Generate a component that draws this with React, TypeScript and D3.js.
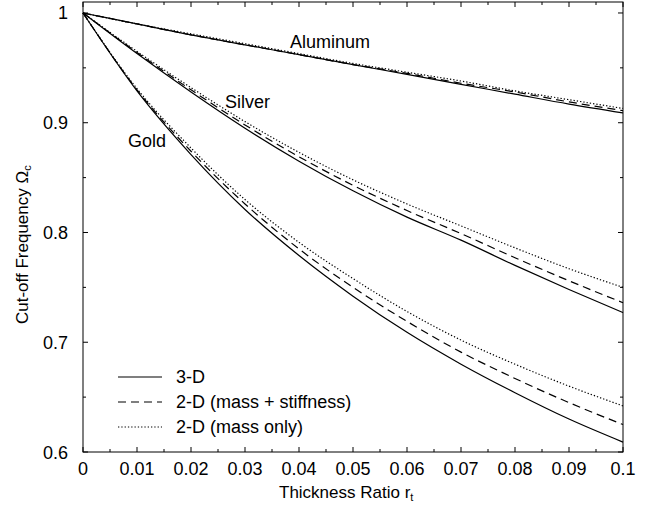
import React, { useRef, useEffect } from "react";
import * as d3 from "d3";

// thickness ratio r_t
const thickness = [0, 0.01, 0.02, 0.03, 0.04, 0.05, 0.06, 0.07, 0.08, 0.09, 0.1];

// cut-off frequency, one array per material and model
const aluminum_3d = [1, 0.990, 0.980, 0.971, 0.962, 0.953, 0.944, 0.935, 0.926, 0.917, 0.909];
const aluminum_2d_ms = [1, 0.990, 0.980, 0.971, 0.962, 0.953, 0.945, 0.936, 0.928, 0.919, 0.911];
const aluminum_2d_m = [1, 0.990, 0.981, 0.972, 0.963, 0.954, 0.946, 0.938, 0.929, 0.921, 0.913];

const silver_3d = [1, 0.963, 0.928, 0.895, 0.865, 0.838, 0.814, 0.793, 0.770, 0.748, 0.727];
const silver_2d_ms = [1, 0.964, 0.930, 0.898, 0.869, 0.843, 0.820, 0.799, 0.777, 0.756, 0.736];
const silver_2d_m = [1, 0.965, 0.932, 0.901, 0.873, 0.848, 0.826, 0.806, 0.786, 0.767, 0.750];

const gold_3d = [1, 0.929, 0.871, 0.821, 0.779, 0.742, 0.709, 0.680, 0.654, 0.630, 0.609];
const gold_2d_ms = [1, 0.930, 0.874, 0.826, 0.785, 0.750, 0.719, 0.691, 0.667, 0.645, 0.625];
const gold_2d_m = [1, 0.931, 0.877, 0.830, 0.791, 0.758, 0.728, 0.702, 0.680, 0.660, 0.642];

const x_ticks = [0, 0.01, 0.02, 0.03, 0.04, 0.05, 0.06, 0.07, 0.08, 0.09, 0.1];
const y_ticks = [0.6, 0.7, 0.8, 0.9, 1];

const legend_labels = ["3-D", "2-D (mass + stiffness)", "2-D (mass only)"];
const material_labels = ["Aluminum", "Silver", "Gold"];

const App = () => {
	const plot_svg = useRef(null);
	const svg_width = 648;
	const svg_height = 510;
	const left = 83, right = 623, top = 2, bottom = 452;
	const font = "'Liberation Sans', Arial, sans-serif";
	const dash_list = ["none", "8,5", "1.3,2"];

	useEffect(() => {
		const svg = d3.select(plot_svg.current);
		svg.selectChildren().remove();

		const x_scale = d3.scaleLinear().domain([0, 0.1]).range([left, right]);
		const y_scale = d3.scaleLinear().domain([0.6, 1.01]).range([bottom, top]);

		// frame
		svg.append("rect")
			.attr("x", left).attr("y", top)
			.attr("width", right - left).attr("height", bottom - top)
			.attr("fill", "none").attr("stroke", "#000").attr("stroke-width", 1);

		// inward ticks on all four sides
		const ticks = svg.append("g").attr("stroke", "#000").attr("stroke-width", 1);
		const x_minor = d3.range(0, 0.1001, 0.005);
		x_minor.forEach((v, i) => {
			const len = i % 2 === 0 ? 5 : 3;
			const px = x_scale(v);
			ticks.append("line").attr("x1", px).attr("x2", px).attr("y1", bottom).attr("y2", bottom - len);
			ticks.append("line").attr("x1", px).attr("x2", px).attr("y1", top).attr("y2", top + len);
		});
		const y_minor = d3.range(0.6, 1.0001, 0.05);
		y_minor.forEach((v, i) => {
			const len = i % 2 === 0 ? 5 : 3;
			const py = y_scale(v);
			ticks.append("line").attr("x1", left).attr("x2", left + len).attr("y1", py).attr("y2", py);
			ticks.append("line").attr("x1", right).attr("x2", right - len).attr("y1", py).attr("y2", py);
		});

		// tick labels
		svg.append("g").selectAll("text").data(x_ticks).enter().append("text")
			.attr("x", d => x_scale(d)).attr("y", bottom + 23)
			.attr("text-anchor", "middle")
			.style("font-family", font).style("font-size", "18px")
			.text(d => d3.format("~g")(d));
		svg.append("g").selectAll("text").data(y_ticks).enter().append("text")
			.attr("x", left - 15).attr("y", d => y_scale(d) + 6.5)
			.attr("text-anchor", "end")
			.style("font-family", font).style("font-size", "18px")
			.text(d => d3.format("~g")(d));

		// axis titles
		const x_title = svg.append("text")
			.attr("x", 279).attr("y", 498)
			.style("font-family", font).style("font-size", "17px")
			.text("Thickness Ratio r");
		x_title.append("tspan").attr("dy", 3).style("font-size", "11px").text("t");

		const y_title = svg.append("text")
			.attr("transform", `translate(28, 324) rotate(-90)`)
			.style("font-family", font).style("font-size", "17px")
			.text("Cut-off Frequency Ω");
		y_title.append("tspan").attr("dy", 3).style("font-size", "11px").text("c");

		// curves
		const series = [
			[aluminum_3d, aluminum_2d_ms, aluminum_2d_m],
			[silver_3d, silver_2d_ms, silver_2d_m],
			[gold_3d, gold_2d_ms, gold_2d_m],
		];
		const line = d3.line()
			.x((d, i) => x_scale(thickness[i]))
			.y(d => y_scale(d))
			.curve(d3.curveMonotoneX);
		series.forEach(group => {
			group.forEach((values, k) => {
				svg.append("path")
					.datum(values)
					.attr("fill", "none")
					.attr("stroke", "#000")
					.attr("stroke-width", 1.2)
					.attr("stroke-dasharray", dash_list[k])
					.attr("d", line);
			});
		});

		// material labels
		const label_pos = [[290, 48], [225, 108], [128, 147]];
		material_labels.forEach((t, i) => {
			svg.append("text")
				.attr("x", label_pos[i][0]).attr("y", label_pos[i][1])
				.style("font-family", font).style("font-size", "18px")
				.text(t);
		});

		// legend
		legend_labels.forEach((t, i) => {
			const ly = 377 + i * 25;
			svg.append("line")
				.attr("x1", 118).attr("x2", 162).attr("y1", ly).attr("y2", ly)
				.attr("stroke", "#000").attr("stroke-width", 1.2)
				.attr("stroke-dasharray", dash_list[i]);
			svg.append("text")
				.attr("x", 176).attr("y", ly + 6)
				.style("font-family", font).style("font-size", "18px")
				.text(t);
		});
	});

	return (
		<div style={{ position: "absolute", left: 0, top: 0 }}>
			<svg ref={plot_svg} width={svg_width} height={svg_height} style={{ display: "block", background: "#fff" }}>
			</svg>
		</div>
	);
};

export default App;
